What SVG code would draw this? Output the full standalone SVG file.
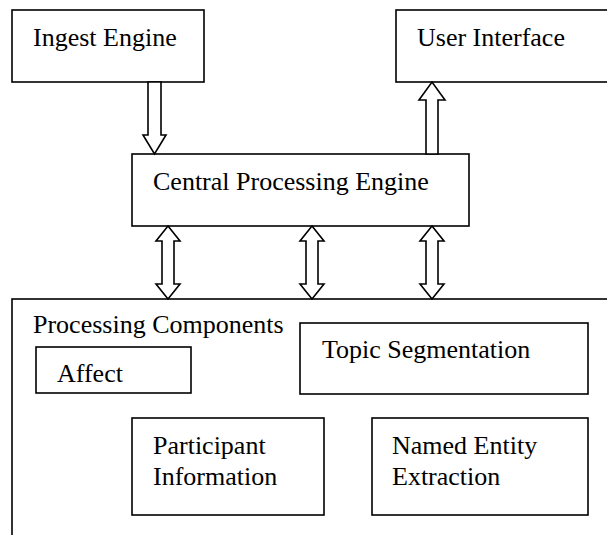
<svg xmlns="http://www.w3.org/2000/svg" width="607" height="535" viewBox="0 0 607 535">
<style>
rect.box{fill:#fff;stroke:#000;stroke-width:1.6}
.arr{fill:#fff;stroke:#000;stroke-width:1.6;stroke-linejoin:miter}
text{font-family:"Liberation Serif","Times New Roman",serif;font-size:26px;fill:#000}
</style>
<rect width="607" height="535" fill="#fff"/>
<g id="processing-components">
<rect class="box" x="12" y="299" width="620" height="260"/>
<text x="33" y="333">Processing Components</text>
</g>
<g id="ingest-engine">
<rect class="box" x="12" y="10" width="192" height="72"/>
<text x="33" y="46">Ingest Engine</text>
</g>
<g id="user-interface">
<rect class="box" x="396" y="10" width="230" height="72"/>
<text x="417" y="46">User Interface</text>
</g>
<g id="central-processing-engine">
<rect class="box" x="132" y="154" width="337" height="72"/>
<text x="153" y="190">Central Processing Engine</text>
</g>
<g id="affect">
<rect class="box" x="36" y="347" width="155" height="46"/>
<text x="57" y="382">Affect</text>
</g>
<g id="topic-segmentation">
<rect class="box" x="300" y="323" width="288" height="71"/>
<text x="322" y="358">Topic Segmentation</text>
</g>
<g id="participant-information">
<rect class="box" x="132" y="418" width="192" height="97"/>
<text x="153" y="454">Participant</text>
<text x="153" y="485">Information</text>
</g>
<g id="named-entity-extraction">
<rect class="box" x="372" y="418" width="216" height="97"/>
<text x="392" y="454">Named Entity</text>
<text x="392" y="485">Extraction</text>
</g>
<g id="connectors">
<path class="arr" d="M148,82 L161,82 L161,135 L166,135 L154.5,154 L143,135 L148,135 Z"/>
<path class="arr" d="M426,154 L426,100 L419,100 L432,82 L445,100 L438,100 L438,154 Z"/>
<path class="arr" d="M168,226 L180,241 L174,241 L174,284 L180,284 L168,299 L156,284 L162,284 L162,241 L156,241 Z"/>
<path class="arr" d="M312,226 L324,241 L318,241 L318,284 L324,284 L312,299 L300,284 L306,284 L306,241 L300,241 Z"/>
<path class="arr" d="M432,226 L444,241 L438,241 L438,284 L444,284 L432,299 L420,284 L426,284 L426,241 L420,241 Z"/>
</g>
</svg>
